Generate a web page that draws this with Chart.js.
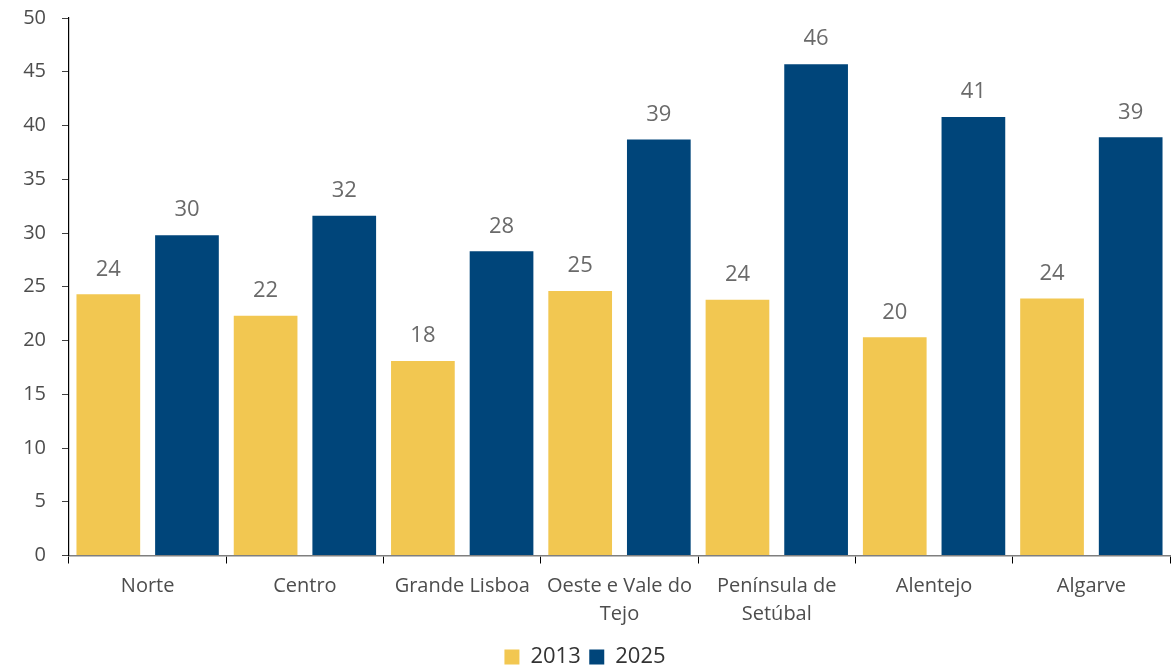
<!DOCTYPE html>
<html>
<head>
<meta charset="utf-8">
<script src="https://cdn.jsdelivr.net/npm/chart.js@4"></script>
<style>
  html, body { margin: 0; padding: 0; background: #fff; }
  #wrap { width: 1171px; height: 667px; }
</style>
</head>
<body>
<div id="wrap"><canvas id="grafico"></canvas></div>
<script>
const regioes = ['Norte', 'Centro', 'Grande Lisboa', ['Oeste e Vale do', 'Tejo'], ['Península de', 'Setúbal'], 'Alentejo', 'Algarve'];
const valores2013 = [24.3, 22.3, 18.1, 24.6, 23.8, 20.3, 23.9];
const valores2025 = [29.8, 31.6, 28.3, 38.7, 45.7, 40.8, 38.9];
const rotulos2013 = ['24', '22', '18', '25', '24', '20', '24'];
const rotulos2025 = ['30', '32', '28', '39', '46', '41', '39'];
const ticksY = [0, 5, 10, 15, 20, 25, 30, 35, 40, 45, 50];

const fonte = "'Open Sans', sans-serif";

// escreve o valor por cima de cada barra
const pluginRotulos = {
  id: 'rotulosBarras',
  afterDatasetsDraw(chart) {
    const { ctx } = chart;
    ctx.save();
    ctx.font = `22px ${fonte}`;
    ctx.fillStyle = '#6a6a6a';
    ctx.textAlign = 'center';
    ctx.textBaseline = 'bottom';
    chart.data.datasets.forEach((ds, i) => {
      const meta = chart.getDatasetMeta(i);
      meta.data.forEach((bar, j) => {
        ctx.fillText(ds.rotulos[j], bar.x, bar.y - 14);
      });
    });
    ctx.restore();
  }
};

new Chart(document.getElementById('grafico'), {
  type: 'bar',
  data: {
    labels: regioes,
    datasets: [
      { label: '2013', data: valores2013, rotulos: rotulos2013, backgroundColor: '#f2c751' },
      { label: '2025', data: valores2025, rotulos: rotulos2025, backgroundColor: '#00457a' }
    ]
  },
  plugins: [pluginRotulos],
  options: {
    responsive: true,
    maintainAspectRatio: false,
    animation: false,
    devicePixelRatio: 1,
    layout: { padding: { top: 18, right: 1, left: 0, bottom: -11 } },
    datasets: { bar: { categoryPercentage: 1.0, barPercentage: 0.81 } },
    plugins: {
      legend: {
        position: 'bottom',
        labels: {
          boxWidth: 15,
          boxHeight: 15,
          padding: 8.5,
          color: '#333',
          font: { family: fonte, size: 22 }
        }
      },
      tooltip: { enabled: false }
    },
    scales: {
      x: {
        afterFit(scale) { scale.paddingTop = 0; scale.paddingBottom = 0; },
        grid: { display: true, offset: true, drawOnChartArea: false, tickLength: 8, color: '#000' },
        border: { color: '#7f7f7f', width: 1.5 },
        ticks: { color: '#4d4d4d', font: { family: fonte, size: 20, lineHeight: 1.4 }, padding: 9, maxRotation: 0, autoSkip: false }
      },
      y: {
        min: 0,
        max: 50,
        afterBuildTicks(scale) { scale.ticks = ticksY.map(v => ({ value: v })); },
        afterFit(scale) { scale.width = 69; scale.paddingTop = 0; scale.paddingBottom = 0; },
        grid: { drawOnChartArea: false, tickLength: 7, color: '#404040' },
        border: { color: '#000', width: 1.2 },
        ticks: { color: '#4d4d4d', font: { family: fonte, size: 20 }, padding: 16 }
      }
    }
  }
});
</script>
</body>
</html>
